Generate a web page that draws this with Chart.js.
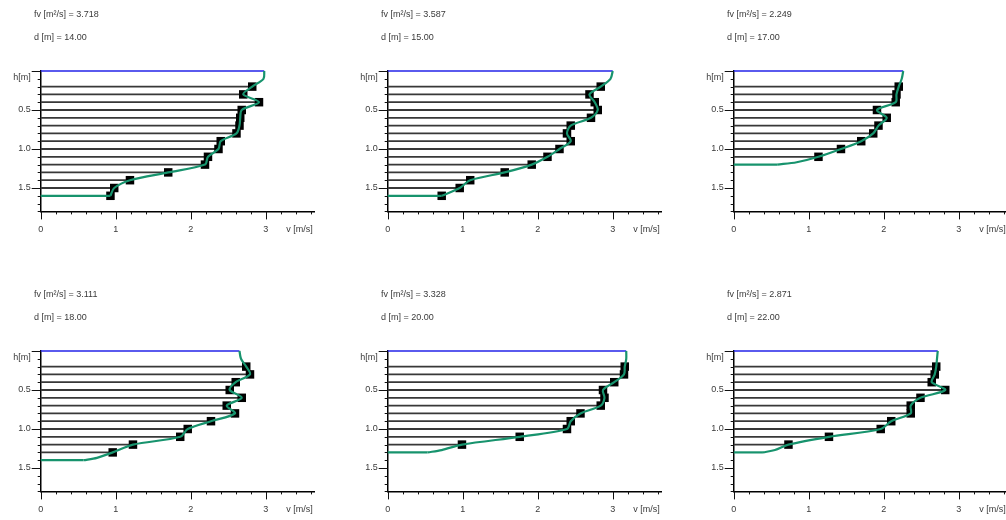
<!DOCTYPE html>
<html>
<head>
<meta charset="utf-8">
<script src="https://cdn.jsdelivr.net/npm/chart.js@4.4.0/dist/chart.umd.min.js"></script>
<style>
    body { margin: 0; background: #fff; width: 1006px; height: 520px; overflow: hidden; position: relative; }
    canvas { position: absolute; }
</style>
</head>
<body>
<script>
// header values of the six verticals
const discharge = ['3.718', '3.587', '2.249', '3.111', '3.328', '2.871'];
const distance = ['14.00', '15.00', '17.00', '18.00', '20.00', '22.00'];
const surface_velocity = [2.98, 3.00, 2.26, 2.65, 3.18, 2.72];
const bed_depth = [1.6, 1.6, 1.2, 1.4, 1.3, 1.3];

// measured points (depth h [m], velocity v [m/s])
const depths_1 = [0.2, 0.3, 0.4, 0.5, 0.6, 0.7, 0.8, 0.9, 1.0, 1.1, 1.2, 1.3, 1.4, 1.5, 1.6];
const velocity_1 = [2.82, 2.70, 2.91, 2.68, 2.66, 2.65, 2.61, 2.40, 2.37, 2.23, 2.19, 1.70, 1.19, 0.98, 0.93];
const depths_2 = [0.2, 0.3, 0.4, 0.5, 0.6, 0.7, 0.8, 0.9, 1.0, 1.1, 1.2, 1.3, 1.4, 1.5, 1.6];
const velocity_2 = [2.84, 2.69, 2.76, 2.80, 2.71, 2.44, 2.39, 2.44, 2.29, 2.13, 1.92, 1.56, 1.10, 0.96, 0.72];
const depths_3 = [0.2, 0.3, 0.4, 0.5, 0.6, 0.7, 0.8, 0.9, 1.0, 1.1];
const velocity_3 = [2.20, 2.17, 2.16, 1.91, 2.04, 1.93, 1.86, 1.70, 1.43, 1.13];
const depths_4 = [0.2, 0.3, 0.4, 0.5, 0.6, 0.7, 0.8, 0.9, 1.0, 1.1, 1.2, 1.3];
const velocity_4 = [2.74, 2.79, 2.60, 2.52, 2.68, 2.48, 2.59, 2.27, 1.96, 1.86, 1.23, 0.96];
const depths_5 = [0.2, 0.3, 0.4, 0.5, 0.6, 0.7, 0.8, 0.9, 1.0, 1.1, 1.2];
const velocity_5 = [3.16, 3.15, 3.02, 2.87, 2.89, 2.84, 2.57, 2.44, 2.39, 1.76, 0.99];
const depths_6 = [0.2, 0.3, 0.4, 0.5, 0.6, 0.7, 0.8, 0.9, 1.0, 1.1, 1.2];
const velocity_6 = [2.70, 2.68, 2.64, 2.82, 2.49, 2.36, 2.36, 2.10, 1.96, 1.27, 0.73];

// fitted profile (green curve)
const profile_h_1 = [0, 0.1, 0.2, 0.3, 0.4, 0.5, 0.6, 0.7, 0.8, 0.9, 1.0, 1.1, 1.2, 1.3, 1.4, 1.5, 1.6];
const profile_v_1 = [2.98, 2.97, 2.82, 2.70, 2.91, 2.68, 2.66, 2.65, 2.61, 2.40, 2.37, 2.23, 2.19, 1.70, 1.19, 0.98, 0.93];
const profile_h_2 = [0, 0.1, 0.2, 0.3, 0.4, 0.5, 0.6, 0.7, 0.8, 0.9, 1.0, 1.1, 1.2, 1.3, 1.4, 1.5, 1.6];
const profile_v_2 = [3.00, 2.97, 2.84, 2.69, 2.76, 2.80, 2.71, 2.44, 2.39, 2.44, 2.29, 2.13, 1.92, 1.56, 1.10, 0.96, 0.72];
const profile_h_3 = [0, 0.1, 0.2, 0.3, 0.4, 0.5, 0.6, 0.7, 0.8, 0.9, 1.0, 1.1, 1.17, 1.2];
const profile_v_3 = [2.26, 2.24, 2.20, 2.17, 2.16, 1.91, 2.04, 1.93, 1.86, 1.70, 1.43, 1.13, 0.84, 0.58];
const profile_h_4 = [0, 0.1, 0.2, 0.3, 0.4, 0.5, 0.6, 0.7, 0.8, 0.9, 1.0, 1.1, 1.2, 1.3, 1.37, 1.4];
const profile_v_4 = [2.65, 2.67, 2.74, 2.79, 2.60, 2.52, 2.68, 2.48, 2.59, 2.27, 1.96, 1.86, 1.23, 0.96, 0.75, 0.57];
const profile_h_5 = [0, 0.1, 0.2, 0.3, 0.4, 0.5, 0.6, 0.7, 0.8, 0.9, 1.0, 1.1, 1.2, 1.27, 1.3];
const profile_v_5 = [3.18, 3.18, 3.16, 3.15, 3.02, 2.87, 2.89, 2.84, 2.57, 2.44, 2.39, 1.76, 0.99, 0.72, 0.53];
const profile_h_6 = [0, 0.1, 0.2, 0.3, 0.4, 0.5, 0.6, 0.7, 0.8, 0.9, 1.0, 1.1, 1.2, 1.27, 1.3];
const profile_v_6 = [2.72, 2.71, 2.70, 2.68, 2.64, 2.82, 2.49, 2.36, 2.36, 2.10, 1.96, 1.27, 0.73, 0.55, 0.39];

// axis ticks
const x_tick_values = [0, 1, 2, 3, 3.45];
const x_tick_labels = ['0', '1', '2', '3', 'v [m/s]'];
const y_tick_values = [0.08, 0.5, 1.0, 1.5];
const y_tick_labels = ['h[m]', '0.5', '1.0', '1.5'];

const all_depths = [depths_1, depths_2, depths_3, depths_4, depths_5, depths_6];
const all_velocity = [velocity_1, velocity_2, velocity_3, velocity_4, velocity_5, velocity_6];
const all_profile_h = [profile_h_1, profile_h_2, profile_h_3, profile_h_4, profile_h_5, profile_h_6];
const all_profile_v = [profile_v_1, profile_v_2, profile_v_3, profile_v_4, profile_v_5, profile_v_6];

const FONT = '"Liberation Sans", Arial, sans-serif';
const TEXT_COLOR = '#3a3a3a';
const GREEN = '#17936d';
const TITLE_SHIFT = 27.3;

// small tick marks drawn along both axes
const tick_marks = {
    id: 'tick_marks',
    afterDraw(chart) {
        const ctx = chart.ctx;
        const area = chart.chartArea;
        const x = chart.scales.x;
        const y = chart.scales.y;
        ctx.save();
        ctx.strokeStyle = '#111';
        ctx.lineWidth = 1;
        ctx.beginPath();
        for (let i = 0; i * 0.2 <= x.max + 1e-9; ++i) {
            let px = Math.round(x.getPixelForValue(i * 0.2)) + 0.5;
            ctx.moveTo(px, area.bottom);
            ctx.lineTo(px, area.bottom + (i % 5 === 0 ? 8 : 3));
        }
        for (let i = 0; i * 0.1 <= y.max + 1e-9; ++i) {
            let py = Math.round(y.getPixelForValue(i * 0.1)) + 0.5;
            ctx.moveTo(area.left, py);
            ctx.lineTo(area.left - (i % 5 === 0 ? 9 : 3), py);
        }
        ctx.stroke();
        ctx.restore();
    }
};

// the header lines start right of the y tick labels
const shift_titles = {
    id: 'shift_titles',
    afterLayout(chart) {
        chart.boxes.forEach(box => {
            if (box.fullSize && box.position === 'top' && box.options && 'text' in box.options) {
                box.left += TITLE_SHIFT;
            }
        });
    }
};

function build_datasets(k) {
    let datasets = [];
    let depths = all_depths[k];
    let velocity = all_velocity[k];
    for (let i = 0; i < depths.length; ++i) {
        datasets.push({
            data: [{ x: 0, y: depths[i] }, { x: velocity[i], y: depths[i] }],
            showLine: true,
            borderColor: '#383838',
            borderWidth: 1.8,
            pointRadius: 0,
            clip: false,
            order: 3
        });
    }
    datasets.push({
        data: [{ x: 0, y: 0 }, { x: surface_velocity[k], y: 0 }],
        showLine: true,
        borderColor: '#2323e8',
        borderWidth: 1.6,
        pointRadius: 0,
        clip: false,
        order: 2
    });
    datasets.push({
        data: depths.map((h, i) => ({ x: velocity[i], y: h })),
        showLine: false,
        pointStyle: 'rect',
        pointRadius: 6,
        backgroundColor: '#000',
        borderColor: '#000',
        borderWidth: 0,
        clip: false,
        order: 1
    });
    let ph = all_profile_h[k];
    let pv = all_profile_v[k];
    datasets.push({
        data: ph.map((h, i) => ({ x: pv[i], y: h })),
        showLine: true,
        tension: 0.3,
        borderColor: GREEN,
        borderWidth: 2.2,
        pointRadius: 0,
        clip: false,
        order: 0
    });
    datasets.push({
        data: [{ x: 0, y: bed_depth[k] }, { x: pv[pv.length - 1], y: bed_depth[k] }],
        showLine: true,
        borderColor: GREEN,
        borderWidth: 2.2,
        pointRadius: 0,
        clip: false,
        order: 0
    });
    return datasets;
}

function draw_panel(k) {
    let canvas = document.createElement('canvas');
    canvas.width = 340;
    canvas.height = 260;
    canvas.style.left = ((k % 3) * 346.67) + 'px';
    canvas.style.top = (Math.floor(k / 3) * 280) + 'px';
    document.body.appendChild(canvas);

    const header_font = { family: FONT, size: 9, weight: 'normal' };
    const config = {
        type: 'scatter',
        data: { datasets: build_datasets(k) },
        options: {
            responsive: false,
            animation: false,
            devicePixelRatio: 1,
            layout: { autoPadding: false, padding: { left: 6.7, right: 25.5, top: 0, bottom: 18.6 } },
            plugins: {
                legend: { display: false },
                tooltip: { enabled: false },
                title: {
                    display: true,
                    text: 'fv [m²/s] = ' + discharge[k],
                    align: 'start',
                    color: TEXT_COLOR,
                    font: header_font,
                    padding: { top: 9, bottom: 6 }
                },
                subtitle: {
                    display: true,
                    text: 'd [m] = ' + distance[k],
                    align: 'start',
                    color: TEXT_COLOR,
                    font: header_font,
                    padding: { top: 6, bottom: 28.4 }
                }
            },
            scales: {
                x: {
                    type: 'linear',
                    min: 0,
                    max: 3.65,
                    grid: { display: false, drawTicks: false },
                    border: { display: true, color: '#000', width: 1.5 },
                    afterBuildTicks: axis => {
                        axis.ticks = x_tick_values.map(v => ({ value: v }));
                    },
                    afterFit: axis => {
                        axis.height = 30;
                        axis.paddingLeft = 0;
                        axis.paddingRight = 0;
                    },
                    ticks: {
                        autoSkip: false,
                        maxRotation: 0,
                        padding: 13,
                        color: TEXT_COLOR,
                        font: { family: FONT, size: 9 },
                        callback: (value, index) => x_tick_labels[index]
                    }
                },
                y: {
                    type: 'linear',
                    reverse: true,
                    min: 0,
                    max: 1.8,
                    grid: { display: false, drawTicks: false },
                    border: { display: true, color: '#000', width: 1.5 },
                    afterBuildTicks: axis => {
                        axis.ticks = y_tick_values.map(v => ({ value: v }));
                    },
                    afterFit: axis => {
                        axis.width = 34;
                        axis.paddingTop = 0;
                        axis.paddingBottom = 0;
                    },
                    ticks: {
                        autoSkip: false,
                        padding: 10,
                        color: TEXT_COLOR,
                        font: { family: FONT, size: 9 },
                        callback: (value, index) => y_tick_labels[index]
                    }
                }
            }
        },
        plugins: [tick_marks, shift_titles]
    };
    new Chart(canvas, config);
}

for (let k = 0; k < 6; ++k) {
    draw_panel(k);
}
</script>
</body>
</html>
